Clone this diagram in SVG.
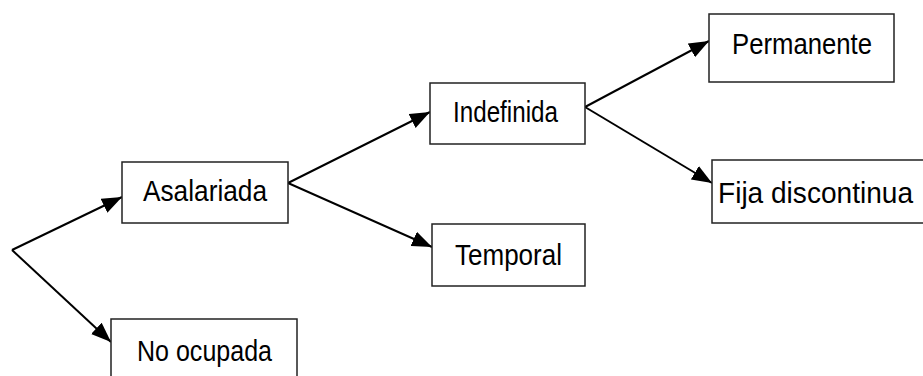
<svg xmlns="http://www.w3.org/2000/svg" width="923" height="376" viewBox="0 0 923 376">
<defs>
<style>
.box{fill:#fff;stroke:#222;stroke-width:1.5}
.lbl{font-family:"Liberation Sans",Arial,sans-serif;font-size:30px;fill:#000}
.con{stroke:#000;stroke-width:2;fill:none;marker-end:url(#ah)}
</style>
<marker id="ah" markerUnits="userSpaceOnUse" markerWidth="20" markerHeight="16" refX="18" refY="7" orient="auto" viewBox="0 0 18 14">
<path d="M0,0 L18,7 L0,14 Z" fill="#000"/>
</marker>
</defs>
<rect width="923" height="376" fill="#fff"/>
<g id="connectors">
<line class="con" x1="12" y1="250" x2="122" y2="197"/>
<line class="con" x1="12" y1="250" x2="111" y2="342"/>
<line class="con" x1="288" y1="183" x2="430" y2="112"/>
<line class="con" x1="288" y1="183" x2="432" y2="247"/>
<line class="con" x1="585" y1="107" x2="709" y2="41"/>
<line class="con" x1="585" y1="107" x2="712" y2="183"/>
</g>
<g id="asalariada">
<rect class="box" x="122" y="162" width="166" height="61"/>
<text class="lbl" x="143" y="201" textLength="124" lengthAdjust="spacingAndGlyphs">Asalariada</text>
</g>
<g id="no-ocupada">
<rect class="box" x="111" y="319" width="186" height="64"/>
<text class="lbl" x="137" y="361" textLength="135" lengthAdjust="spacingAndGlyphs">No ocupada</text>
</g>
<g id="indefinida">
<rect class="box" x="430" y="83" width="155" height="61"/>
<text class="lbl" x="453" y="122" textLength="105" lengthAdjust="spacingAndGlyphs">Indefinida</text>
</g>
<g id="temporal">
<rect class="box" x="432" y="224" width="153" height="62"/>
<text class="lbl" x="455" y="265" textLength="107" lengthAdjust="spacingAndGlyphs">Temporal</text>
</g>
<g id="permanente">
<rect class="box" x="709" y="14" width="185" height="68"/>
<text class="lbl" x="732" y="54" textLength="140" lengthAdjust="spacingAndGlyphs">Permanente</text>
</g>
<g id="fija-discontinua">
<rect class="box" x="712" y="160" width="220" height="63"/>
<text class="lbl" x="718" y="203" textLength="195" lengthAdjust="spacingAndGlyphs">Fija discontinua</text>
</g>
</svg>
